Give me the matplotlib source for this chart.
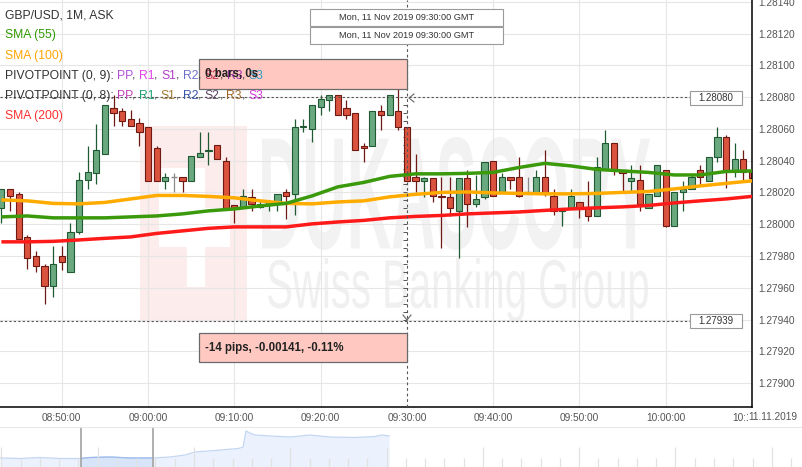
import numpy as np
import matplotlib
matplotlib.use("Agg")
import matplotlib.pyplot as plt
from matplotlib.patches import Rectangle, PathPatch
from matplotlib.textpath import TextPath
from matplotlib.font_manager import FontProperties
from matplotlib.transforms import Affine2D
from matplotlib.lines import Line2D

# ---------------- data ----------------
times = ["08:43", "08:44", "08:45", "08:46", "08:47", "08:48", "08:49", "08:50", "08:51", "08:52",
         "08:53", "08:54", "08:55", "08:56", "08:57", "08:58", "08:59", "09:00", "09:01", "09:02",
         "09:03", "09:04", "09:05", "09:06", "09:07", "09:08", "09:09", "09:10", "09:11", "09:12",
         "09:13", "09:14", "09:15", "09:16", "09:17", "09:18", "09:19", "09:20", "09:21", "09:22",
         "09:23", "09:24", "09:25", "09:26", "09:27", "09:28", "09:29", "09:30", "09:31", "09:32",
         "09:33", "09:34", "09:35", "09:36", "09:37", "09:38", "09:39", "09:40", "09:41", "09:42",
         "09:43", "09:44", "09:45", "09:46", "09:47", "09:48", "09:49", "09:50", "09:51", "09:52",
         "09:53", "09:54", "09:55", "09:56", "09:57", "09:58", "09:59", "10:00", "10:01", "10:02",
         "10:03", "10:04", "10:05", "10:06", "10:07", "10:08", "10:09", "10:10"]
opens = [1.28010, 1.28022, 1.28019, 1.27992, 1.27980, 1.27974, 1.27961, 1.27980, 1.27970, 1.27995,
         1.28028, 1.28032, 1.28044, 1.28073, 1.28071, 1.28066, 1.28064, 1.28061, 1.28048, 1.28027,
         1.28030, 1.28030, 1.28027, 1.28042, 1.28046, 1.28050, 1.28040, 1.28012, 1.28011, 1.28017,
         1.28011, 1.28013, 1.28014, 1.28020, 1.28019, 1.28061, 1.28060, 1.28074, 1.28078, 1.28081,
         1.28073, 1.28070, 1.28049, 1.28049, 1.28071, 1.28069, 1.28071, 1.28061, 1.28030, 1.28027,
         1.28029, 1.28018, 1.28017, 1.28008, 1.28029, 1.28013, 1.28017, 1.28040, 1.28020, 1.28030,
         1.28030, 1.28020, 1.28020, 1.28030, 1.28018, 1.28008, 1.28010, 1.28014, 1.28011, 1.28005,
         1.28035, 1.28051, 1.28034, 1.28027, 1.28028, 1.28010, 1.28018, 1.28034, 1.27999, 1.28020,
         1.28022, 1.28034, 1.28027, 1.28042, 1.28055, 1.28033, 1.28041, 1.28034]
highs = [1.28022, 1.28022, 1.28020, 1.27993, 1.27983, 1.27975, 1.27986, 1.27986, 1.28001, 1.28033,
         1.28049, 1.28063, 1.28075, 1.28081, 1.28073, 1.28072, 1.28067, 1.28061, 1.28049, 1.28032,
         1.28032, 1.28030, 1.28043, 1.28058, 1.28058, 1.28050, 1.28042, 1.28012, 1.28022, 1.28022,
         1.28015, 1.28015, 1.28019, 1.28022, 1.28066, 1.28066, 1.28075, 1.28081, 1.28081, 1.28081,
         1.28078, 1.28070, 1.28051, 1.28071, 1.28075, 1.28081, 1.28086, 1.28061, 1.28044, 1.28030,
         1.28029, 1.28030, 1.28030, 1.28029, 1.28034, 1.28031, 1.28039, 1.28040, 1.28032, 1.28030,
         1.28042, 1.28030, 1.28034, 1.28047, 1.28022, 1.28010, 1.28022, 1.28014, 1.28027, 1.28042,
         1.28059, 1.28051, 1.28034, 1.28037, 1.28037, 1.28019, 1.28037, 1.28034, 1.28020, 1.28027,
         1.28031, 1.28037, 1.28042, 1.28061, 1.28056, 1.28051, 1.28047, 1.28034]
lows = [1.28001, 1.28008, 1.27991, 1.27972, 1.27970, 1.27950, 1.27954, 1.27971, 1.27970, 1.27994,
        1.28022, 1.28025, 1.28044, 1.28062, 1.28062, 1.28062, 1.28049, 1.28027, 1.28027, 1.28022,
        1.28020, 1.28020, 1.28027, 1.28042, 1.28037, 1.28041, 1.28010, 1.28001, 1.28011, 1.28008,
        1.28010, 1.28008, 1.28008, 1.28003, 1.28006, 1.28058, 1.28052, 1.28069, 1.28071, 1.28069,
        1.28066, 1.28047, 1.28039, 1.28049, 1.28059, 1.28069, 1.28059, 1.28027, 1.28020, 1.28017,
        1.28014, 1.27985, 1.28005, 1.27979, 1.27998, 1.28011, 1.28016, 1.28018, 1.28020, 1.28022,
        1.28017, 1.28020, 1.28020, 1.28018, 1.28006, 1.27999, 1.28010, 1.28004, 1.28002, 1.28005,
        1.28035, 1.28031, 1.28021, 1.28021, 1.28008, 1.28010, 1.28018, 1.27998, 1.27999, 1.28008,
        1.28022, 1.28024, 1.28027, 1.28039, 1.28023, 1.28030, 1.28027, 1.28029]
closes = [1.28022, 1.28018, 1.27991, 1.27979, 1.27974, 1.27961, 1.27975, 1.27976, 1.27995, 1.28028,
          1.28033, 1.28047, 1.28075, 1.28070, 1.28065, 1.28062, 1.28058, 1.28027, 1.28027, 1.28030,
          1.28030, 1.28027, 1.28043, 1.28045, 1.28047, 1.28041, 1.28010, 1.28010, 1.28018, 1.28013,
          1.28013, 1.28014, 1.28019, 1.28018, 1.28061, 1.28062, 1.28075, 1.28079, 1.28081, 1.28069,
          1.28069, 1.28047, 1.28048, 1.28071, 1.28069, 1.28081, 1.28061, 1.28027, 1.28027, 1.28029,
          1.28018, 1.28017, 1.28010, 1.28029, 1.28013, 1.28016, 1.28039, 1.28018, 1.28030, 1.28028,
          1.28018, 1.28020, 1.28030, 1.28019, 1.28008, 1.28010, 1.28018, 1.28010, 1.28005, 1.28036,
          1.28051, 1.28035, 1.28032, 1.28029, 1.28013, 1.28019, 1.28037, 1.27999, 1.28020, 1.28022,
          1.28030, 1.28030, 1.28042, 1.28055, 1.28033, 1.28041, 1.28033, 1.28029]

sma_times = ["08:43", "08:46", "08:49", "08:52", "08:55", "08:58", "09:01", "09:04", "09:07", "09:10",
             "09:13", "09:16", "09:19", "09:22", "09:25", "09:28", "09:31", "09:34", "09:37", "09:40",
             "09:43", "09:46", "09:49", "09:52", "09:55", "09:58", "10:01", "10:04", "10:07", "10:10"]
sma55 = [1.280046, 1.280052, 1.280040, 1.280040, 1.280040, 1.280046, 1.280052, 1.280065, 1.280084, 1.280096,
         1.280115, 1.280131, 1.280178, 1.280235, 1.280263, 1.280301, 1.280317, 1.280317, 1.280320, 1.280326,
         1.280357, 1.280383, 1.280367, 1.280345, 1.280335, 1.280326, 1.280310, 1.280310, 1.280332, 1.280335]
sma100 = [1.280153, 1.280147, 1.280131, 1.280128, 1.280137, 1.280159, 1.280181, 1.280181, 1.280175, 1.280166,
          1.280147, 1.280131, 1.280128, 1.280140, 1.280147, 1.280172, 1.280188, 1.280200, 1.280203, 1.280197,
          1.280194, 1.280191, 1.280191, 1.280194, 1.280200, 1.280206, 1.280222, 1.280241, 1.280257, 1.280273]
sma200 = [1.279889, 1.279889, 1.279892, 1.279901, 1.279911, 1.279920, 1.279942, 1.279958, 1.279974, 1.279983,
          1.279983, 1.279983, 1.280002, 1.280014, 1.280024, 1.280040, 1.280049, 1.280055, 1.280065, 1.280071,
          1.280077, 1.280087, 1.280096, 1.280103, 1.280109, 1.280118, 1.280134, 1.280147, 1.280159, 1.280175]

y_ticks = [1.27900, 1.27920, 1.27940, 1.27960, 1.27980, 1.28000, 1.28020, 1.28040,
           1.28060, 1.28080, 1.28100, 1.28120, 1.28140]
x_tick_times = ["08:50", "09:00", "09:10", "09:20", "09:30", "09:40", "09:50", "10:00", "10:10"]
x_tick_labels = ["08:50:00", "09:00:00", "09:10:00", "09:20:00", "09:30:00", "09:40:00",
                 "09:50:00", "10:00:00", "10:10:00"]
date_label = "11.11.2019"

cross_time = "09:30"
cross_price_hi = 1.28080
cross_price_lo = 1.27939
cross_header = "Mon, 11 Nov 2019 09:30:00 GMT"
bars_text = "0 bars, 0s"
measure_text = "-14 pips, -0.00141, -0.11%"

# navigator (overview) series
nav_t = [-0.07, 0.97, 2.0, 3.04, 4.08, 4.6, 5.64, 6.68, 7.82, 8.75, 9.53, 10.05, 11.1, 12.3, 12.55,
         12.7, 12.9, 13.17, 13.95, 15.0, 16.02, 17.06, 18.36, 19.4, 19.76, 20.13]
nav_level = [9, 8.5, 9.5, 8.5, 8.5, 9.5, 10, 9, 9, 10, 12, 15, 16.5, 18.5, 20,
             36, 34, 32, 31, 30, 32, 30, 29.5, 30.5, 32, 31]
nav_sel = (4.13, 7.87)


def to_min(s):
    h, m = s.split(":")
    return int(h) * 60 + int(m) - 480


# ---------------- figure ----------------
W, H = 803, 467
DPI = 100
fig = plt.figure(figsize=(W / DPI, H / DPI), dpi=DPI, facecolor="white")
PX = Affine2D().scale(1, -1).translate(0, H)   # image pixel -> display
AX_R, AX_B = 752, 407
ax = fig.add_axes([0, 1 - AX_B / H, AX_R / W, AX_B / H])
ax.set_facecolor("white")
XMIN, XMAX = 42.84, 129.98
YMIN, YMAX = 1.2788496, 1.281411
FONT = "Liberation Sans"

t = np.array([to_min(s) for s in times], dtype=float)
o = np.array(opens); h = np.array(highs); l = np.array(lows); c = np.array(closes)


def add_text_path(target, s, box, color, weight="normal", z=0.2):
    tp = TextPath((0, 0), s, size=100, prop=FontProperties(family=FONT, weight=weight))
    bb = tp.get_extents()
    x0, y0, x1, y1 = box
    sx = (x1 - x0) / bb.width
    sy = (y1 - y0) / bb.height
    tr = Affine2D().translate(-bb.x0, -bb.y0).scale(sx, -sy).translate(x0, y1) + PX
    p = PathPatch(tp, transform=tr, facecolor=color, edgecolor="none", zorder=z)
    target.add_artist(p)
    return p


# watermark logo + text
ax.add_artist(Rectangle((140, 126), 107, 196, transform=PX, facecolor="#fcecec",
                        edgecolor="none", zorder=0.2))
for (x0, y0, w, hh) in [(159, 168, 46, 40), (159, 208, 71, 39), (187, 247, 18, 40)]:
    ax.add_artist(Rectangle((x0, y0), w, hh, transform=PX, facecolor="white",
                            edgecolor="none", zorder=0.25))
add_text_path(ax, "DUKASCOPY", (262, 137, 650, 250), "#f2f2f2", weight="bold")
add_text_path(ax, "Swiss Banking Group", (268, 258, 648, 322), "#f0f0f0")

# grid
for yv in y_ticks:
    ax.axhline(yv, color="#e6e6e6", lw=0.8, zorder=0.5)
for s in x_tick_times:
    if s != cross_time:
        ax.axvline(to_min(s), color="#e6e6e6", lw=0.8, zorder=0.5)

# candles
up_fill, up_edge = "#6aa880", "#1f5a33"
dn_fill, dn_edge = "#d9533f", "#6e1a12"
doji_col = "#8a8a8a"
bw = 0.72
for i in range(len(t)):
    if o[i] == c[i]:
        ax.vlines(t[i], l[i], h[i], color=doji_col, lw=0.9, zorder=2)
        ax.hlines(o[i], t[i] - bw / 2, t[i] + bw / 2, color=doji_col, lw=1.0, zorder=2.1)
        continue
    up = c[i] > o[i]
    ec = up_edge if up else dn_edge
    fc = up_fill if up else dn_fill
    ax.vlines(t[i], l[i], h[i], color=ec, lw=0.9, zorder=2)
    ax.bar(t[i], abs(c[i] - o[i]), bottom=min(o[i], c[i]), width=bw, color=fc,
           edgecolor=ec, linewidth=0.8, zorder=2.1)

# SMAs
ts = [to_min(s) for s in sma_times]
ax.plot(ts, sma100, color="#ffab00", lw=2.5, zorder=3, solid_capstyle="butt")
ax.plot(ts, sma55, color="#3a9a0c", lw=2.5, zorder=3.1, solid_capstyle="butt")
ax.plot(ts, sma200, color="#ff1a1a", lw=2.5, zorder=3.2, solid_capstyle="butt")

# crosshair / measure
tc = to_min(cross_time)
ax.axvline(tc, color="#555555", lw=0.8, dashes=(2.5, 2.5), zorder=4)
ax.axhline(cross_price_hi, xmax=690 / AX_R, color="#555555", lw=0.8, dashes=(2, 2), zorder=4)
ax.axhline(cross_price_lo, xmax=690 / AX_R, color="#555555", lw=0.8, dashes=(2, 2), zorder=4)
ruler = np.arange(cross_price_lo + 0.00001, cross_price_hi, 0.00005)
ax.hlines(ruler, tc - 0.45, tc, color="#555555", lw=0.7, zorder=1.9)

# axes styling
ax.set_xlim(XMIN, XMAX)
ax.set_ylim(YMIN, YMAX)
ax.yaxis.tick_right()
ax.set_yticks(y_ticks)
ax.set_yticklabels([f"{v:.5f}" for v in y_ticks])
ax.set_xticks([to_min(s) for s in x_tick_times])
ax.set_xticklabels(x_tick_labels)
ax.tick_params(axis="both", length=0, labelcolor="#555555", labelsize=7.3)
ax.tick_params(axis="y", pad=4.5)
ax.tick_params(axis="x", pad=4.0)
for lab in ax.get_xticklabels() + ax.get_yticklabels():
    lab.set_fontfamily(FONT)
for side in ("left", "top"):
    ax.spines[side].set_visible(False)
for side in ("right", "bottom"):
    ax.spines[side].set_color("black")
    ax.spines[side].set_linewidth(1.1)

# date label covering the last tick label
fig.text(748, 417, date_label, transform=PX, ha="left", va="center", fontsize=7.3,
         color="#555555", family=FONT,
         bbox=dict(facecolor="white", edgecolor="none", pad=0.3), zorder=5)

# chevrons
fig.add_artist(Line2D([414, 409, 414], [94, 98, 102], transform=PX, color="#666666", lw=0.8))
fig.add_artist(Line2D([403, 407, 411], [315, 320, 315], transform=PX, color="#666666", lw=0.8))

# header boxes
for (y0, y1) in [(9, 26), (27, 44)]:
    fig.add_artist(Rectangle((310, y0), 193, y1 - y0, transform=PX, facecolor="white",
                             edgecolor="#9a9a9a", lw=0.8, zorder=5))
    fig.text(407, (y0 + y1) / 2, cross_header, transform=PX, ha="center", va="center",
             fontsize=6.6, color="#333333", family=FONT, zorder=6)

# price boxes
for (p, yy) in [(cross_price_hi, 98), (cross_price_lo, 321)]:
    fig.add_artist(Rectangle((690, yy - 7), 52, 14, transform=PX, facecolor="white",
                             edgecolor="#9a9a9a", lw=0.8, zorder=5))
    fig.text(716, yy, f"{p:.5f}", transform=PX, ha="center", va="center",
             fontsize=7.0, color="#333333", family=FONT, zorder=6)

# pink boxes
fig.add_artist(Rectangle((199, 59), 208, 30, transform=PX, facecolor="#ffc9c2",
                         edgecolor="#6a6a6a", lw=0.9, zorder=1.5))
fig.add_artist(Rectangle((199, 333), 208, 29, transform=PX, facecolor="#ffc9c2",
                         edgecolor="#6a6a6a", lw=0.9, zorder=1.5))
fig.text(205, 348, measure_text, transform=PX, ha="left", va="center", fontsize=8.3,
         weight="bold", color="#222222", family=FONT, zorder=6)

# legend (multi-coloured lines)
renderer = fig.canvas.get_renderer()
LFS = 8.7
lprop = FontProperties(family=FONT, size=LFS)


def width_px(s):
    w, _, _ = renderer.get_text_width_height_descent(s, lprop, ismath=False)
    return w


def seq_text(x0, y, parts, z=3):
    full = ""
    for s, col in parts:
        full += s
        core = s.strip()
        if not core:
            continue
        xs = x0 + width_px(full.rstrip()) - width_px(core)
        fig.text(xs, y, core, transform=PX, ha="left", va="center", fontproperties=lprop,
                 color=col, zorder=z)


G = "#333333"
seq_text(5, 15, [("GBP/USD, 1M, ASK", G)])
seq_text(5, 35, [("SMA (55)", "#2f9a00")])
seq_text(5, 56, [("SMA (100)", "#ffa500")])
seq_text(5, 76, [("PIVOTPOINT (0, 9): ", G), ("PP", "#b050d8"), (", ", G), ("R1", "#e040e8"), (", ", G),
                 ("S1", "#b040c8"), (", ", G), ("R2", "#7070d0"), (", ", G), ("S2", "#c03050"),
                 (", ", G), ("R3", "#a030a8"), (", ", G), ("S3", "#30a0c8")])
seq_text(5, 96, [("PIVOTPOINT (0, 8): ", G), ("PP", "#c040b8"), (", ", G), ("R1", "#20a078"), (", ", G),
                 ("S1", "#a07830"), (", ", G), ("R2", "#3858a8"), (", ", G), ("S2", "#604868"),
                 (", ", G), ("R3", "#a06828"), (", ", G), ("S3", "#d040d8")])
seq_text(5, 116, [("SMA (200)", "#ff3030")])
fig.text(205, 74, bars_text, transform=PX, ha="left", va="center", fontsize=8.3,
         weight="bold", color="#222222", family=FONT, zorder=6)

# navigator
fig.add_artist(Line2D([0, W], [427, 427], transform=PX, color="#e8e8e8", lw=0.8))
nav = fig.add_axes([0, 0, 1, 40 / H])
nav.set_axis_off()
nav.set_xlim(-0.0727, 41.62)
nav.set_ylim(0, 40)
nt = np.array(nav_t); nl = np.array(nav_level)
nav.fill_between(nt, nl, 0, color="#ebf2fd", lw=0, zorder=1)
xs_sel = np.linspace(nav_sel[0], nav_sel[1], 30)
nav.fill_between(xs_sel, np.interp(xs_sel, nt, nl), 0, color="#d8e5f9", lw=0, zorder=1.1)
nav.plot(nt, nl, color="#c3d6f4", lw=0.9, zorder=2)
nav.plot(xs_sel, np.interp(xs_sel, nt, nl), color="#9cbbea", lw=0.9, zorder=2.1)
jj = np.arange(0, 42)
nav.vlines(jj[jj % 5 == 0], 0, 20, color="#e2e2e2", lw=0.9, zorder=3)
nav.vlines(jj[jj % 5 != 0], 0, 9, color="#e2e2e2", lw=0.9, zorder=3)
nav.vlines(list(nav_sel), 0, 40, color="#a9a9a9", lw=1.3, zorder=4)

fig.savefig("out.png", dpi=DPI, facecolor="white")
